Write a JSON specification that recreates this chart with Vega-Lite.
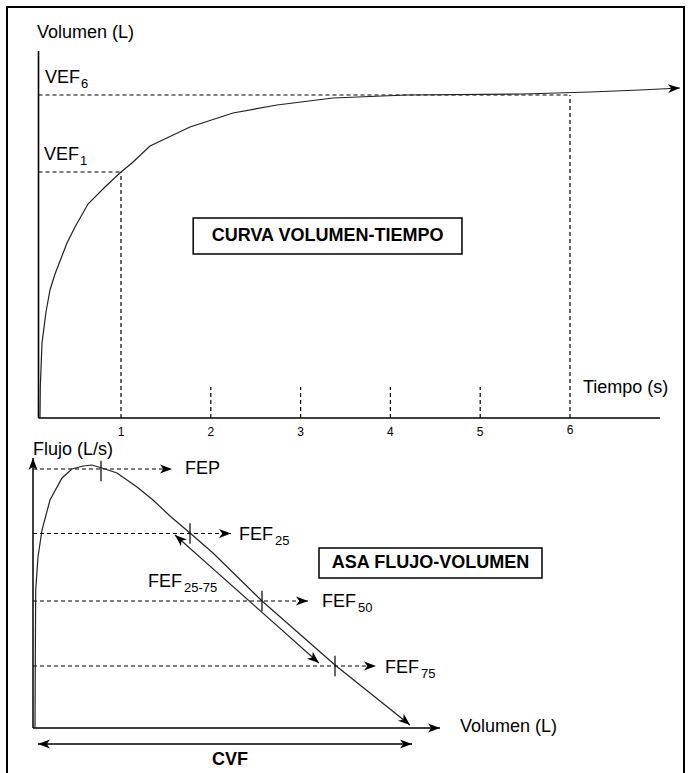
{
  "$schema": "https://vega.github.io/schema/vega-lite/v6.json",
  "width": 677,
  "height": 770,
  "autosize": {"type": "none"},
  "padding": {"left": 7, "top": 7, "right": 4, "bottom": 3},
  "background": "white",
  "config": {"view": {"stroke": "#000", "strokeWidth": 2}, "font": "Liberation Sans"},
  "datasets": {
    "topCurve": [
      {"t": 0.0980, "v": 0}, {"t": 0.1013, "v": 0.3839}, {"t": 0.1203, "v": 0.9288}, {"t": 0.1648, "v": 1.3127},
      {"t": 0.2094, "v": 1.5851}, {"t": 0.2650, "v": 1.7833}, {"t": 0.3987, "v": 2.1672}, {"t": 0.4878, "v": 2.3653},
      {"t": 0.6325, "v": 2.6502}, {"t": 0.8218, "v": 2.8607}, {"t": 1.0000, "v": 3.0464}, {"t": 1.1225, "v": 3.1579},
      {"t": 1.3229, "v": 3.3684}, {"t": 1.7684, "v": 3.6037}, {"t": 2.2472, "v": 3.7771}, {"t": 2.7372, "v": 3.8762},
      {"t": 3.3608, "v": 3.9628}, {"t": 4.1849, "v": 4.0}, {"t": 5.4766, "v": 4.0124}, {"t": 6.2227, "v": 4.0372},
      {"t": 6.7795, "v": 4.0619}, {"t": 7.2249, "v": 4.0867}
    ],
    "topAxes": [
      {"t": 0.0813, "v": 0, "t2": 0.0813, "v2": 4.545},
      {"t": 0.0813, "v": 0, "t2": 7.002, "v2": 0}
    ],
    "topDashed": [
      {"t": 0.0813, "v": 4.0, "t2": 6, "v2": 4.0},
      {"t": 6, "v": 0, "t2": 6, "v2": 4.0},
      {"t": 0.0813, "v": 3.0464, "t2": 1, "v2": 3.0464},
      {"t": 1, "v": 0, "t2": 1, "v2": 3.0464},
      {"t": 2, "v": 0, "t2": 2, "v2": 0.384},
      {"t": 3, "v": 0, "t2": 3, "v2": 0.384},
      {"t": 4, "v": 0, "t2": 4, "v2": 0.384},
      {"t": 5, "v": 0, "t2": 5, "v2": 0.384}
    ],
    "topArrowR": [{"t": 7.2249, "v": 4.0867}],
    "topLabels": [
      {"label": "Volumen (L)", "t": 0.0646, "v": 4.768},
      {"label": "VEF", "sub": "6", "t": 0.1537, "v": 4.2105},
      {"label": "VEF", "sub": "1", "t": 0.1425, "v": 3.257},
      {"label": "Tiempo (s)", "t": 6.145, "v": 0.3715}
    ],
    "topTickLabels": [
      {"label": "1", "t": 1, "v": -0.1734}, {"label": "2", "t": 2, "v": -0.1734},
      {"label": "3", "t": 3, "v": -0.1734}, {"label": "4", "t": 4, "v": -0.1734},
      {"label": "5", "t": 5, "v": -0.1734}, {"label": "6", "t": 6, "v": -0.15}
    ],
    "topBox": [{"label": "CURVA VOLUMEN-TIEMPO", "t": 1.804, "t2": 4.797, "v": 2.4768, "v2": 2.031, "tc": 3.3005, "vc": 2.2539}],
    "botCurve": [
      {"vol": 0, "flow": 0}, {"vol": 0.0032, "flow": 2.1004}, {"vol": 0.0075, "flow": 4.2625}, {"vol": 0.032, "flow": 5.2819},
      {"vol": 0.0747, "flow": 6.1158}, {"vol": 0.16, "flow": 7.0425}, {"vol": 0.288, "flow": 7.722}, {"vol": 0.3947, "flow": 8.0},
      {"vol": 0.512, "flow": 8.0927}, {"vol": 0.608, "flow": 8.1236}, {"vol": 0.7147, "flow": 8.0309}, {"vol": 0.8747, "flow": 7.8764},
      {"vol": 1.088, "flow": 7.444}, {"vol": 1.2587, "flow": 7.0425}, {"vol": 1.44, "flow": 6.5483}, {"vol": 1.6533, "flow": 6.0232},
      {"vol": 1.8987, "flow": 5.4054}, {"vol": 2.4213, "flow": 3.9228}, {"vol": 3.2, "flow": 1.9459}, {"vol": 4.0, "flow": 0.0927}
    ],
    "botAxes": [
      {"vol": -0.0213, "flow": 0, "vol2": -0.0213, "flow2": 8.34},
      {"vol": -0.0213, "flow": 0, "vol2": 4.32, "flow2": 0},
      {"vol": 0.032, "flow": -0.4942, "vol2": 4.0213, "flow2": -0.4942}
    ],
    "botRange": [
      {"vol": 1.4933, "flow": 5.961, "vol2": 3.0293, "flow2": 2.008}
    ],
    "botDashed": [
      {"vol": -0.0213, "flow": 8.0, "vol2": 1.4613, "flow2": 8.0},
      {"vol": -0.0213, "flow": 6.008, "vol2": 2.0907, "flow2": 6.008},
      {"vol": -0.0213, "flow": 3.923, "vol2": 2.912, "flow2": 3.923},
      {"vol": -0.0213, "flow": 1.915, "vol2": 3.6373, "flow2": 1.915}
    ],
    "botTicks": [
      {"vol": 0.704, "flow": 7.938}, {"vol": 1.6533, "flow": 6.008},
      {"vol": 2.4213, "flow": 3.923}, {"vol": 3.2, "flow": 1.915}
    ],
    "botArrowR": [
      {"vol": 1.4613, "flow": 8.0}, {"vol": 2.0907, "flow": 6.008}, {"vol": 2.912, "flow": 3.923},
      {"vol": 3.6373, "flow": 1.915}, {"vol": 4.32, "flow": 0}, {"vol": 4.0213, "flow": -0.4942}
    ],
    "botArrowL": [{"vol": 0.032, "flow": -0.4942}],
    "botArrowU": [{"vol": -0.0213, "flow": 8.34}],
    "botArrowDR": [{"vol": 4.0, "flow": 0.0927}, {"vol": 3.0293, "flow": 2.008}],
    "botArrowUL": [{"vol": 1.4933, "flow": 5.961}],
    "botLabels": [
      {"label": "Flujo (L/s)", "vol": -0.0213, "flow": 8.587},
      {"label": "FEP", "vol": 1.6, "flow": 8.0},
      {"label": "FEF", "sub": "25", "vol": 2.176, "flow": 5.961},
      {"label": "FEF", "sub": "50", "vol": 3.0613, "flow": 3.892},
      {"label": "FEF", "sub": "75", "vol": 3.7333, "flow": 1.853},
      {"label": "FEF", "sub": "25-75", "vol": 1.2053, "flow": 4.51},
      {"label": "Volumen (L)", "vol": 4.5333, "flow": 0.0309}
    ],
    "botBox": [{"label": "ASA FLUJO-VOLUMEN", "vol": 3.0293, "vol2": 5.408, "flow": 5.56, "flow2": 4.633, "vc": 4.2187, "fc": 5.0965}],
    "botBold": [{"label": "CVF", "vol": 2.08, "flow": -0.9884}]
  },
  "layer": [
    {
      "encoding": {
        "x": {"field": "t", "type": "quantitative", "axis": null, "scale": {"domain": [-0.26949, 7.26949], "nice": false, "zero": false}},
        "y": {"field": "v", "type": "quantitative", "axis": null, "scale": {"domain": [-4.44582, 5.08978], "nice": false, "zero": false}}
      },
      "layer": [
        {"data": {"name": "topDashed"}, "mark": {"type": "rule", "color": "#000", "strokeWidth": 1.2, "strokeDash": [4, 3]},
         "encoding": {"x2": {"field": "t2"}, "y2": {"field": "v2"}}},
        {"data": {"name": "topAxes"}, "mark": {"type": "rule", "color": "#000", "strokeWidth": 1.6},
         "encoding": {"x2": {"field": "t2"}, "y2": {"field": "v2"}}},
        {"data": {"name": "topCurve"}, "mark": {"type": "line", "color": "#222", "strokeWidth": 1.2}, "encoding": {}},
        {"data": {"name": "topArrowR"}, "mark": {"type": "point", "shape": "M0,0L-2,-0.75L-1.45,0L-2,0.75Z", "size": 144, "filled": true, "color": "#000", "opacity": 1, "strokeWidth": 0, "angle": -3}, "encoding": {}},
        {"data": {"name": "topBox"}, "mark": {"type": "rect", "fill": "white", "stroke": "#000", "strokeWidth": 1.5},
         "encoding": {"x2": {"field": "t2"}, "y2": {"field": "v2"}}},
        {"data": {"name": "topBox"}, "mark": {"type": "text", "fontSize": 18, "fontWeight": "bold", "color": "#000", "align": "center", "baseline": "middle"},
         "encoding": {"x": {"field": "tc", "type": "quantitative"}, "y": {"field": "vc", "type": "quantitative"}, "text": {"field": "label"}}},
        {"data": {"name": "topLabels"}, "mark": {"type": "text", "fontSize": 18, "color": "#000", "align": "left", "baseline": "middle"},
         "encoding": {"text": {"field": "label"}}},
        {"data": {"name": "topLabels"}, "transform": [{"filter": "datum.sub"}], "mark": {"type": "text", "fontSize": 13, "color": "#000", "align": "left", "baseline": "middle", "dx": 36, "dy": 6},
         "encoding": {"text": {"field": "sub"}}},
        {"data": {"name": "topTickLabels"}, "mark": {"type": "text", "fontSize": 12, "color": "#000", "align": "center", "baseline": "middle"},
         "encoding": {"text": {"field": "label"}}}
      ]
    },
    {
      "encoding": {
        "x": {"field": "vol", "type": "quantitative", "axis": null, "scale": {"domain": [-0.29867, 6.92267], "nice": false, "zero": false}},
        "y": {"field": "flow", "type": "quantitative", "axis": null, "scale": {"domain": [-1.51351, 22.27027], "nice": false, "zero": false}}
      },
      "layer": [
        {"data": {"name": "botDashed"}, "mark": {"type": "rule", "color": "#000", "strokeWidth": 1.2, "strokeDash": [4, 3]},
         "encoding": {"x2": {"field": "vol2"}, "y2": {"field": "flow2"}}},
        {"data": {"name": "botAxes"}, "mark": {"type": "rule", "color": "#000", "strokeWidth": 1.5},
         "encoding": {"x2": {"field": "vol2"}, "y2": {"field": "flow2"}}},
        {"data": {"name": "botRange"}, "mark": {"type": "rule", "color": "#222", "strokeWidth": 1.1},
         "encoding": {"x2": {"field": "vol2"}, "y2": {"field": "flow2"}}},
        {"data": {"name": "botCurve"}, "mark": {"type": "line", "color": "#222", "strokeWidth": 1.2}, "encoding": {}},
        {"data": {"name": "botTicks"}, "mark": {"type": "point", "shape": "stroke", "angle": 90, "size": 420, "color": "#000", "strokeWidth": 1.2, "opacity": 1}, "encoding": {}},
        {"data": {"name": "botArrowR"}, "mark": {"type": "point", "shape": "M0,0L-2,-0.75L-1.45,0L-2,0.75Z", "size": 144, "filled": true, "color": "#000", "opacity": 1, "strokeWidth": 0, "angle": 0}, "encoding": {}},
        {"data": {"name": "botArrowL"}, "mark": {"type": "point", "shape": "M0,0L-2,-0.75L-1.45,0L-2,0.75Z", "size": 144, "filled": true, "color": "#000", "opacity": 1, "strokeWidth": 0, "angle": 180}, "encoding": {}},
        {"data": {"name": "botArrowU"}, "mark": {"type": "point", "shape": "M0,0L-2,-0.75L-1.45,0L-2,0.75Z", "size": 144, "filled": true, "color": "#000", "opacity": 1, "strokeWidth": 0, "angle": 270}, "encoding": {}},
        {"data": {"name": "botArrowDR"}, "mark": {"type": "point", "shape": "M0,0L-2,-0.75L-1.45,0L-2,0.75Z", "size": 144, "filled": true, "color": "#000", "opacity": 1, "strokeWidth": 0, "angle": 40}, "encoding": {}},
        {"data": {"name": "botArrowUL"}, "mark": {"type": "point", "shape": "M0,0L-2,-0.75L-1.45,0L-2,0.75Z", "size": 144, "filled": true, "color": "#000", "opacity": 1, "strokeWidth": 0, "angle": 221.6}, "encoding": {}},
        {"data": {"name": "botBox"}, "mark": {"type": "rect", "fill": "white", "stroke": "#000", "strokeWidth": 1.5},
         "encoding": {"x2": {"field": "vol2"}, "y2": {"field": "flow2"}}},
        {"data": {"name": "botBox"}, "mark": {"type": "text", "fontSize": 18, "fontWeight": "bold", "color": "#000", "align": "center", "baseline": "middle"},
         "encoding": {"x": {"field": "vc", "type": "quantitative"}, "y": {"field": "fc", "type": "quantitative"}, "text": {"field": "label"}}},
        {"data": {"name": "botBold"}, "mark": {"type": "text", "fontSize": 18, "fontWeight": "bold", "color": "#000", "align": "center", "baseline": "middle"},
         "encoding": {"text": {"field": "label"}}},
        {"data": {"name": "botLabels"}, "mark": {"type": "text", "fontSize": 18, "color": "#000", "align": "left", "baseline": "middle"},
         "encoding": {"text": {"field": "label"}}},
        {"data": {"name": "botLabels"}, "transform": [{"filter": "datum.sub"}], "mark": {"type": "text", "fontSize": 13, "color": "#000", "align": "left", "baseline": "middle", "dx": 36, "dy": 6},
         "encoding": {"text": {"field": "sub"}}}
      ]
    }
  ],
  "resolve": {"scale": {"x": "independent", "y": "independent"}}
}
